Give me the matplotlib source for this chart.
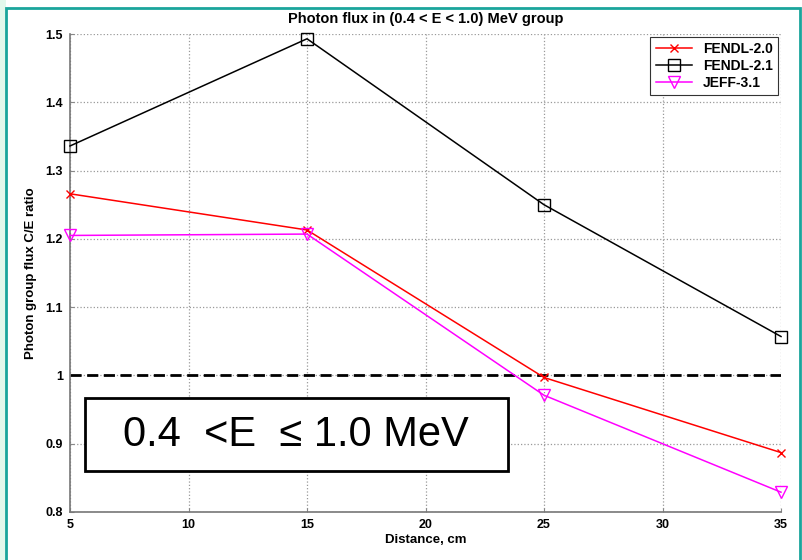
import numpy as np
import matplotlib.pyplot as plt
from matplotlib.patches import Rectangle

plt.rcParams['font.family'] = ['Liberation Sans', 'DejaVu Sans']

# Data
distance = [5, 15, 25, 35]  # cm
fendl20 = [1.266, 1.213, 0.997, 0.887]
fendl21 = [1.336, 1.493, 1.250, 1.057]
jeff31 = [1.205, 1.207, 0.971, 0.829]
labels = ['FENDL-2.0', 'FENDL-2.1', 'JEFF-3.1']
yticks = [0.8, 0.9, 1.0, 1.1, 1.2, 1.3, 1.4, 1.5]
yticklabels = ['0.8', '0.9', '1', '1.1', '1.2', '1.3', '1.4', '1.5']
xticks = [5, 10, 15, 20, 25, 30, 35]

fig = plt.figure(figsize=(8.02, 5.6), dpi=100)
ax = fig.add_axes([70/802, 1 - 512/560, 711/802, 478/560])

# slide-style frame around the figure
fig.patches.append(Rectangle((0, 0), 6/802, 1, transform=fig.transFigure,
                             facecolor='#e3f8ec', edgecolor='none', zorder=0))
fig.patches.append(Rectangle((6/802, -0.01), 794/802, 1.0 - 2/560, transform=fig.transFigure,
                             facecolor='none', edgecolor='#1aa59c', linewidth=2, zorder=0))

ax.plot(distance, fendl20, color='red', marker='x', markersize=6, linewidth=1.1,
        label=labels[0], clip_on=False, zorder=3)
ax.plot(distance, fendl21, color='black', marker='s', markersize=8, markerfacecolor='none',
        linewidth=1.1, label=labels[1], clip_on=False, zorder=3)
ax.plot(distance, jeff31, color='magenta', marker='v', markersize=9, markerfacecolor='none',
        linewidth=1.1, label=labels[2], clip_on=False, zorder=3)
ax.plot([distance[0], distance[-1]], [1.0, 1.0], color='black', linestyle='--',
        linewidth=2, dashes=(4, 2))

ax.set_xlim(5, 35)
ax.set_ylim(0.8, 1.5)
ax.set_xticks(xticks)
ax.set_xticklabels([str(t) for t in xticks], fontweight='bold', fontsize=9)
ax.set_yticks(yticks)
ax.set_yticklabels(yticklabels, fontweight='bold', fontsize=9)
ax.tick_params(direction='in', length=3, color='#888888', pad=5)
ax.grid(True, linestyle=':', color='#999999', linewidth=0.9)
for side in ['top', 'right']:
    ax.spines[side].set_visible(False)
for side in ['left', 'bottom']:
    ax.spines[side].set_color('#777777')
    ax.spines[side].set_linewidth(1.2)

ax.set_title('Photon flux in (0.4 < E < 1.0) MeV group', fontweight='bold', fontsize=10.5, pad=8)
ax.set_xlabel('Distance, cm', fontweight='bold', fontsize=9.5, labelpad=2)
ax.set_ylabel('Photon group flux C/E ratio', fontweight='bold', fontsize=9.5, labelpad=6)

leg = ax.legend(loc='upper right', prop={'weight': 'bold', 'size': 10}, fancybox=False,
                edgecolor='#333333', framealpha=1, handlelength=2.6, borderpad=0.4,
                labelspacing=0.2, borderaxespad=0.2)
leg.get_frame().set_linewidth(0.8)

# energy-range annotation box
ax.add_patch(Rectangle((0.021, 0.086), 0.595, 0.152, transform=ax.transAxes,
                       facecolor='white', edgecolor='black', linewidth=2, zorder=5))
ax.text(0.318, 0.162, '0.4  <E  \u2264 1.0 MeV', transform=ax.transAxes, fontsize=30,
        ha='center', va='center', zorder=6)

fig.savefig('out.png', dpi=100)
